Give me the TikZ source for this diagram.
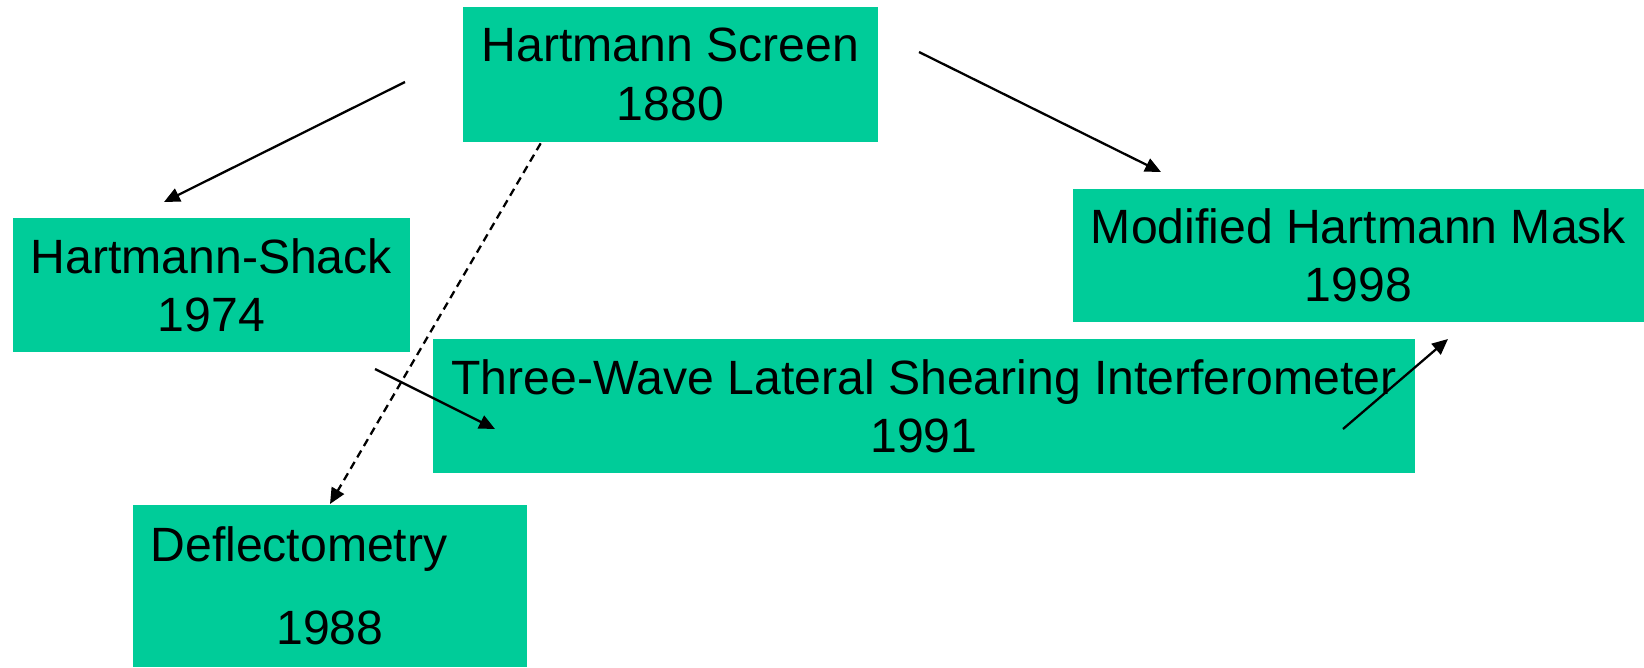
\documentclass[tikz,border=0pt]{standalone}
\usepackage{fontspec}
\setmainfont{Liberation Sans}
\usetikzlibrary{arrows.meta}
\definecolor{boxgreen}{RGB}{0,204,153}
\begin{document}
\begin{tikzpicture}[x=0.02cm,y=-0.02cm,
    box/.style={fill=boxgreen,inner sep=0pt,align=center,
      font=\fontsize{27.4}{33.2}\selectfont},
    link/.style={line width=1.3pt,-{Triangle[length=9pt,width=8pt]}}]
  \useasboundingbox (0,0) rectangle (1644,667);
  \draw
    (670.5,74.5) node[box,minimum width=8.3cm,minimum height=2.7cm] (screen){Hartmann Screen\\1880}
    (211.3,285) node[box,minimum width=7.95cm,minimum height=2.68cm] (shack){Hartmann-Shack\\1974}
    (1358.5,255.5) node[box,minimum width=11.42cm,minimum height=2.66cm] (mask){Modified Hartmann Mask\\1998}
    (924,406) node[box,minimum width=19.64cm,minimum height=2.68cm] (shear){Three-Wave Lateral Shearing Interferometer\\1991}
    (330,586) node[box,minimum width=7.88cm,minimum height=3.24cm] (deflect){Deflectometry\kern1.24cm\\[14pt]1988};
  \coordinate (screen-l) at (405,82);
  \coordinate (shack-in) at (164,202);
  \coordinate (screen-r) at (919,52);
  \coordinate (mask-in) at (1161,172);
  \coordinate (shack-out) at (375,369);
  \coordinate (shear-in) at (495,429);
  \coordinate (shear-out) at (1343,429);
  \coordinate (mask-in2) at (1448,339);
  \coordinate (deflect-in) at (330,504);
  \begin{scope}[link]
    \draw (screen-l) to (shack-in);
    \draw (screen-r) to (mask-in);
    \draw (shack-out) to (shear-in);
    \draw (shear-out) to (mask-in2);
    \draw[dash pattern=on 4.5pt off 3pt] (screen.south west) ++(78,1) to (deflect-in);
  \end{scope}
\end{tikzpicture}
\end{document}
